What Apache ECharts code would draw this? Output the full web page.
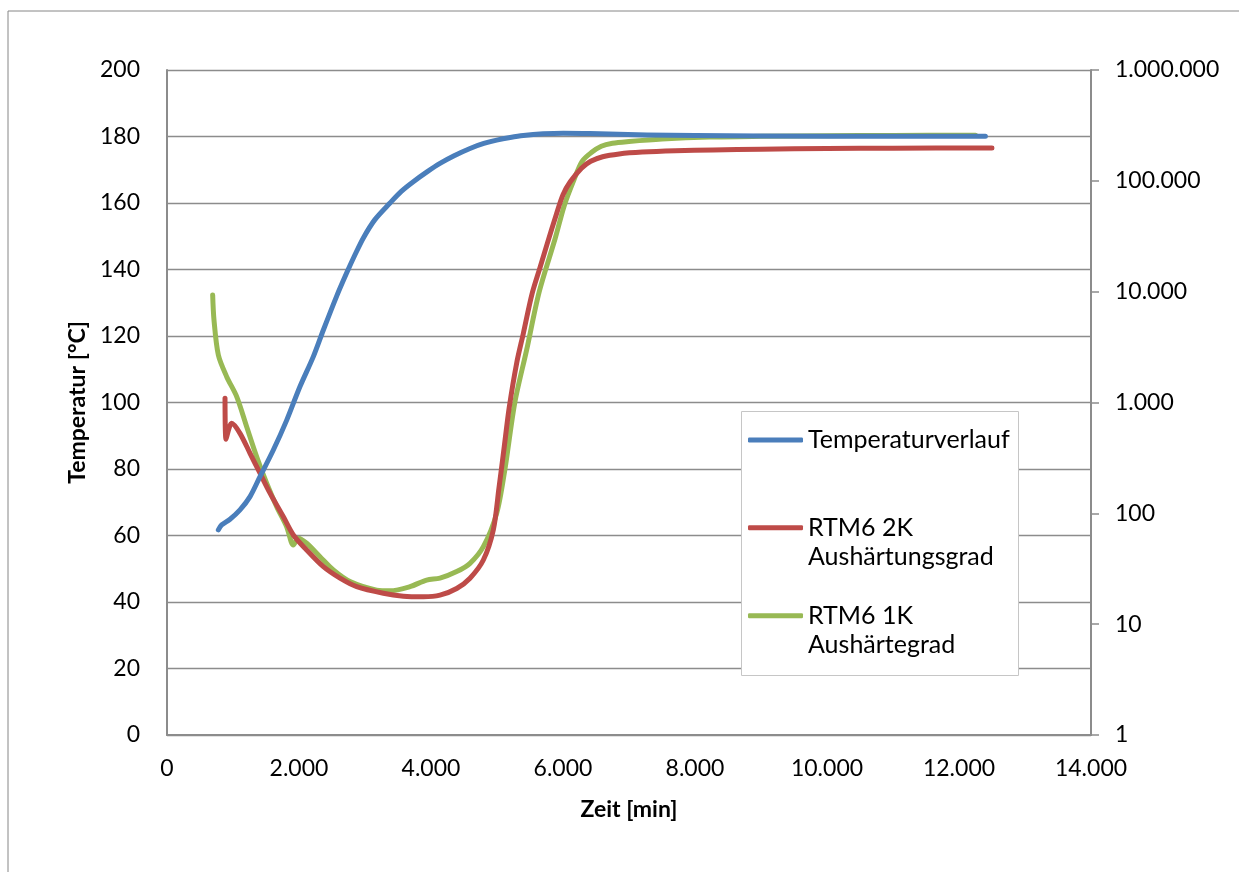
<!DOCTYPE html>
<html>
<head>
<meta charset="utf-8">
<title>Temperatur und Aushärtung</title>
<script src="https://cdn.jsdelivr.net/npm/echarts@6/dist/echarts.min.js"></script>
<style>
  html, body { margin: 0; padding: 0; background: #fff; }
  #chart { width: 1239px; height: 872px; }
</style>
</head>
<body>
<div id="chart"></div>
<script>
// Temperature profile (left axis, °C)
const tempTime = [778, 828, 955, 1106, 1258, 1409, 1611, 1814, 2015, 2217, 2369, 2571, 2723, 2850, 2975, 3150, 3379, 3550, 3732, 3950, 4136, 4350, 4591, 4800, 4995, 5200, 5399, 5700, 6005, 6409, 7273, 8000, 10000, 12400];
const tempValues = [61.7, 63.2, 64.9, 67.7, 71.7, 77.7, 85.7, 94.7, 104.8, 113.8, 121.8, 132.0, 139.0, 144.5, 149.5, 155.0, 160.0, 163.5, 166.4, 169.5, 171.9, 174.2, 176.4, 177.9, 178.9, 179.7, 180.3, 180.8, 181.0, 180.9, 180.45, 180.3, 180.1, 180.1];

// RTM6 2K curing degree (right axis, log)
const rtm2kTime = [879, 894, 980, 1106, 1258, 1409, 1561, 1763, 1914, 2116, 2369, 2621, 2874, 3278, 3581, 3884, 4136, 4389, 4591, 4793, 4944, 5030, 5110, 5185, 5300, 5399, 5530, 5652, 5760, 5900, 6000, 6110, 6280, 6420, 6600, 6850, 7200, 7700, 8273, 9000, 10000, 11000, 12500];
const rtm2kValues = [1090, 466, 649, 527, 348, 230, 152, 93, 63.8, 46.7, 33, 26, 21.8, 19, 17.9, 17.7, 18.3, 21, 26, 37.9, 70.8, 170, 400, 900, 2300, 4200, 9500, 16500, 27000, 50000, 75000, 98000, 130000, 150000, 165000, 175000, 182000, 187000, 190000, 193000, 195500, 197000, 198000];

// RTM6 1K curing degree (right axis, log)
const rtm1kTime = [692, 712, 778, 904, 1056, 1207, 1359, 1510, 1662, 1813, 1914, 1990, 2116, 2318, 2520, 2773, 3177, 3379, 3682, 3934, 4136, 4389, 4591, 4793, 4995, 5120, 5270, 5450, 5640, 5880, 6020, 6160, 6290, 6430, 6580, 6750, 7000, 7500, 8220, 9000, 10000, 11000, 12250];
const rtm1kValues = [9330, 5550, 2680, 1710, 1130, 605, 324, 187, 115, 75.8, 51.8, 59.6, 53.7, 40.6, 30.8, 24.2, 20.3, 20.0, 21.8, 25.0, 26.0, 29.8, 35.4, 50, 100, 250, 1000, 3000, 10000, 30000, 60000, 100000, 150000, 180000, 205000, 218000, 226000, 238000, 248000, 252000, 255000, 257000, 258000];

const seriesNames = ['Temperaturverlauf', 'RTM6 2K Aushärtungsgrad', 'RTM6 1K Aushärtegrad'];
const legendLines = {
  'Temperaturverlauf': ['Temperaturverlauf'],
  'RTM6 2K Aushärtungsgrad': ['RTM6 2K', 'Aushärtungsgrad'],
  'RTM6 1K Aushärtegrad': ['RTM6 1K', 'Aushärtegrad']
};
const colors = ['#4A7EBB', '#BE4B48', '#98B954'];

const zip = (xs, ys) => xs.map((x, i) => [x, ys[i]]);
// German thousands separator: 12.000, 1.000.000
const fmt = v => String(Math.round(v)).replace(/\B(?=(\d{3})+(?!\d))/g, '.');

const FONT = 'Lato';
const gridColor = '#8c8c8c';

const chart = echarts.init(document.getElementById('chart'), null, { renderer: 'canvas' });

const lineSeries = (i, data, yAxisIndex) => ({
  name: seriesNames[i],
  type: 'line',
  yAxisIndex: yAxisIndex,
  data: data,
  symbol: 'none',
  smooth: 0.3,
  animation: false,
  lineStyle: { color: colors[i], width: 5, cap: 'round', join: 'round' },
  itemStyle: { color: colors[i] },
  z: 2 + (2 - i)
});

chart.setOption({
  animation: false,
  backgroundColor: '#fff',
  color: colors,
  textStyle: { fontFamily: FONT },
  grid: { left: 167, right: 148, top: 70, bottom: 137, containLabel: false },
  graphic: [
    {
      type: 'rect', z: 0,
      shape: { x: 8, y: 11, width: 1250, height: 900 },
      style: { fill: 'none', stroke: '#868686', lineWidth: 1 }
    },
    {
      type: 'rect', z: 10,
      shape: { x: 741.5, y: 411.5, width: 277, height: 264 },
      style: { fill: '#fff', stroke: '#c6c6c6', lineWidth: 1 }
    }
  ],
  legend: {
    orient: 'vertical',
    left: 748,
    top: 396,
    padding: 0,
    itemGap: 0,
    itemWidth: 55,
    itemHeight: 5,
    icon: 'roundRect',
    z: 20,
    selectedMode: false,
    data: seriesNames,
    formatter: name => [' '].concat(legendLines[name], legendLines[name].length === 1 ? [' '] : []).join('\n'),
    textStyle: { fontFamily: FONT, fontSize: 25, lineHeight: 29.3, color: '#000' }
  },
  xAxis: {
    type: 'value',
    min: 0, max: 14000, interval: 2000,
    name: 'Zeit [min]',
    nameLocation: 'middle',
    nameGap: 63,
    nameTextStyle: { fontFamily: FONT, fontSize: 23, fontWeight: 'bold', color: '#000' },
    axisLine: { show: true, lineStyle: { color: gridColor, width: 2 } },
    axisTick: { show: false },
    splitLine: { show: false },
    axisLabel: { formatter: fmt, fontFamily: FONT, fontSize: 23, color: '#000', margin: 22 }
  },
  yAxis: [
    {
      type: 'value',
      min: 0, max: 200, interval: 20,
      name: 'Temperatur [°C]',
      nameLocation: 'middle',
      nameGap: 75,
      nameRotate: 90,
      nameTextStyle: { fontFamily: FONT, fontSize: 23, fontWeight: 'bold', color: '#000' },
      axisLine: { show: true, lineStyle: { color: gridColor, width: 2 } },
      axisTick: { show: false },
      splitLine: { show: true, lineStyle: { color: gridColor, width: 1.3 } },
      axisLabel: { fontFamily: FONT, fontSize: 23, color: '#000', margin: 27 }
    },
    {
      type: 'log',
      logBase: 10,
      min: 1, max: 1000000,
      position: 'right',
      axisLine: { show: true, lineStyle: { color: gridColor, width: 2 } },
      axisTick: { show: true, inside: false, length: 8, lineStyle: { color: gridColor, width: 1.5 } },
      minorTick: { show: false },
      splitLine: { show: false },
      axisLabel: { formatter: fmt, fontFamily: FONT, fontSize: 23, color: '#000', margin: 24 }
    }
  ],
  series: [
    lineSeries(0, zip(tempTime, tempValues), 0),
    lineSeries(1, zip(rtm2kTime, rtm2kValues), 1),
    lineSeries(2, zip(rtm1kTime, rtm1kValues), 1)
  ]
});
</script>
</body>
</html>
